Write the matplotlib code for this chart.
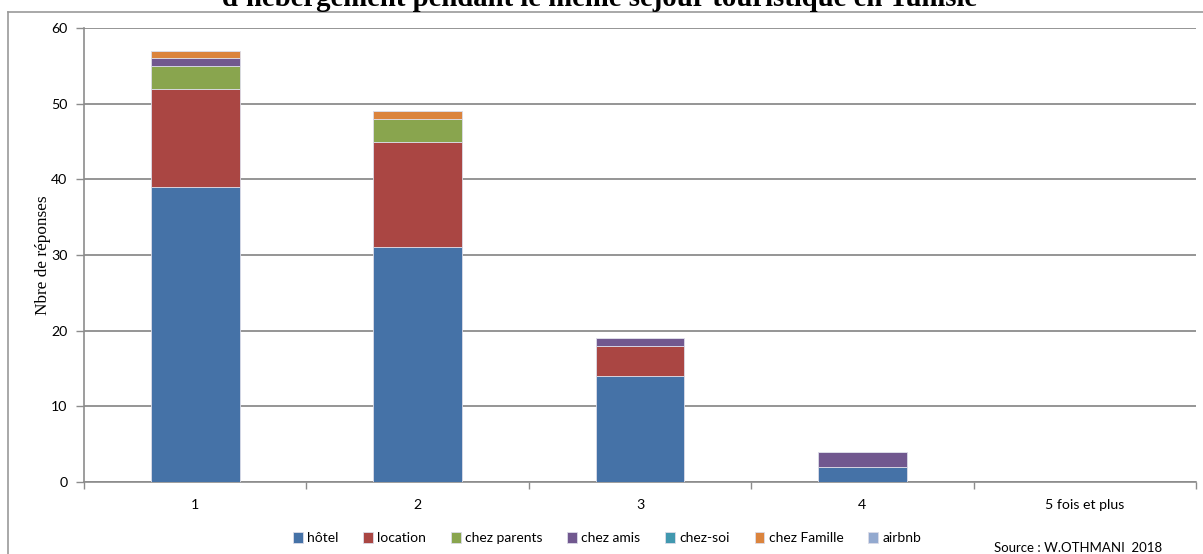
import numpy as np
import matplotlib
matplotlib.use("Agg")
from matplotlib import pyplot as plt
from matplotlib.lines import Line2D

# --------- DATA ---------
categories = ["1", "2", "3", "4", "5 fois et plus"]
series_names = ["hôtel", "location", "chez parents", "chez amis", "chez-soi", "chez Famille", "airbnb"]
hotel = [39, 31, 14, 2, 0]
location = [13, 14, 4, 0, 0]
chez_parents = [3, 3, 0, 0, 0]
chez_amis = [1, 0, 1, 2, 0]
chez_soi = [0, 0, 0, 0, 0]
chez_famille = [1, 1, 0, 0, 0]
airbnb = [0, 0, 0, 0, 0]
colors = ["#4572A7", "#AA4643", "#89A54E", "#71588F", "#4198AF", "#DB843D", "#93A9CF"]

W, H = 1203, 554
fig = plt.figure(figsize=(W / 100, H / 100), dpi=100)
# plot area in pixels: x 84..1196, y 28..482
ax = fig.add_axes([84 / W, 1 - 482 / H, (1196 - 84) / W, (482 - 28) / H])

tick_font = "Lato"
grid_col = "#8c8c8c"

# stacked bars
x = np.arange(len(categories))
bottom = np.zeros(len(categories))
for name, vals, col in zip(series_names,
                           [hotel, location, chez_parents, chez_amis, chez_soi, chez_famille, airbnb],
                           colors):
    vals = np.array(vals, dtype=float)
    ax.bar(x, vals, width=0.4, bottom=bottom, color=col, edgecolor="#dcdce8",
           linewidth=0.6, label=name, zorder=3)
    bottom += vals

ax.set_xlim(-0.5, len(categories) - 0.5)
ax.set_ylim(0, 60)
ax.set_yticks(range(0, 61, 10))
ax.set_xticks(x)
ax.set_xticklabels(categories, fontsize=10.2, family=tick_font)
ax.set_xticks(np.arange(-0.5, len(categories), 1), minor=True)
ax.tick_params(axis="x", which="major", length=0, pad=12)
ax.tick_params(axis="x", which="minor", length=5, color=grid_col, width=1)
ax.tick_params(axis="y", length=6, color=grid_col, width=1, labelsize=10.2, pad=6)
for lab in ax.get_yticklabels():
    lab.set_family(tick_font)

ax.grid(axis="y", color=grid_col, linewidth=1.3, zorder=0)
for s in ["top", "right"]:
    ax.spines[s].set_visible(False)
for s in ["left", "bottom"]:
    ax.spines[s].set_color(grid_col)
    ax.spines[s].set_linewidth(1.2)

ax.set_ylabel("Nbre de réponses", family="Liberation Serif", fontsize=12.4)
ax.yaxis.set_label_coords(-0.03, 0.5)

# title (top of it is cut off in the original)
fig.text(600 / W, 1 - 6 / H, "d'hébergement pendant le même séjour touristique en Tunisie",
         ha="center", va="baseline", family="Liberation Serif", fontweight="bold", fontsize=20.7)

# outer frame
fig.add_artist(Line2D([8 / W, 8 / W], [0, 1 - 12 / H], transform=fig.transFigure, color="#999999", lw=1.2))
fig.add_artist(Line2D([8 / W, 1], [1 - 12 / H, 1 - 12 / H], transform=fig.transFigure, color="#999999", lw=1.2))

# legend
handles, labels = ax.get_legend_handles_labels()
fig.legend(handles, labels, loc="center", bbox_to_anchor=(607 / W, 1 - 538 / H), ncol=7,
           frameon=False, prop={"family": tick_font, "size": 10}, handlelength=0.7,
           handleheight=0.9, handletextpad=0.3, columnspacing=1.8)

fig.text(1078 / W, 1 - 548 / H, "Source : W.OTHMANI  2018", ha="center", va="center",
         family=tick_font, fontsize=9.5)

fig.savefig("out.png", dpi=100)
